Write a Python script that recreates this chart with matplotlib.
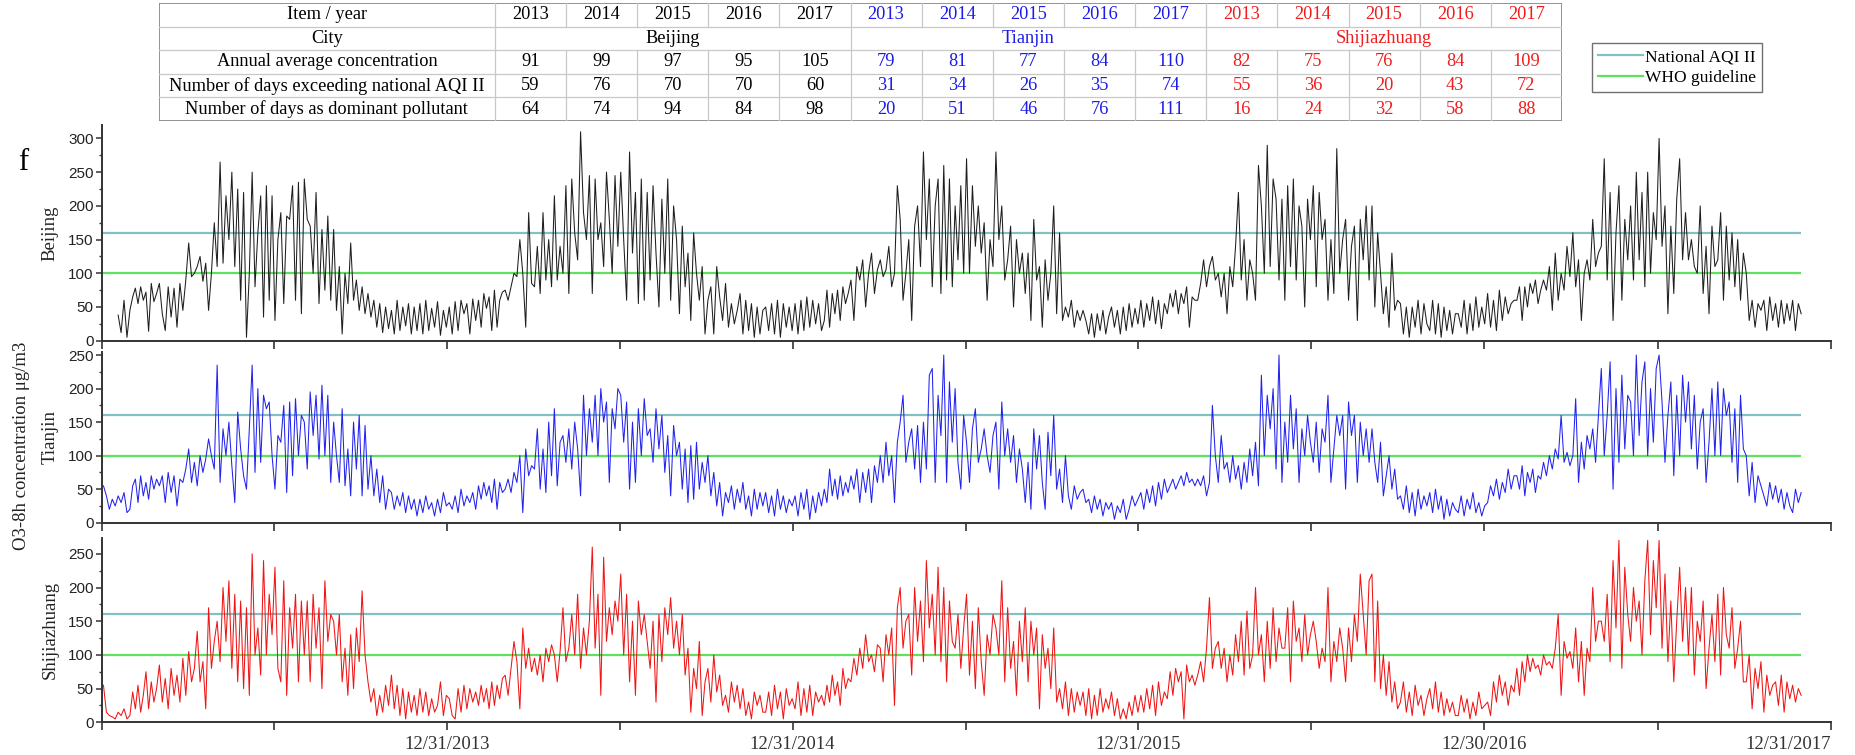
import numpy as np
import pandas as pd
import matplotlib
matplotlib.use('Agg')
import matplotlib.pyplot as plt
import matplotlib.dates as mdates
from matplotlib.patches import Rectangle
from matplotlib.transforms import ScaledTranslation

# ---- table data ----
table_years = [2013, 2014, 2015, 2016, 2017]
table_cities = ['Beijing', 'Tianjin', 'Shijiazhuang']
table_rows = ['Annual average concentration',
              'Number of days exceeding national AQI II',
              'Number of days as dominant pollutant']
bj_table = [[91, 99, 97, 95, 105], [59, 76, 70, 70, 60], [64, 74, 94, 84, 98]]
tj_table = [[79, 81, 77, 84, 110], [31, 34, 26, 35, 74], [20, 51, 46, 76, 111]]
sjz_table = [[82, 75, 76, 84, 109], [55, 36, 20, 43, 72], [16, 24, 32, 58, 88]]

aqi_ii = 160
who_guideline = 100

# ---- O3-8h series, 10 readings per month, Jan 2013 .. Nov 2017 ----
first_month = '2013-01'
last_month = '2017-11'
per_month = 10

beijing = [
    # 2013
    None, None, None, None, None, 38, 12, 60, 5, 45,
    65, 78, 55, 80, 60, 72, 14, 85, 58, 70,
    85, 40, 15, 80, 35, 78, 20, 85, 45, 90,
    145, 95, 100, 110, 125, 88, 115, 45, 100, 175,
    110, 265, 115, 215, 150, 250, 110, 225, 60, 220,
    5, 100, 250, 80, 160, 215, 35, 230, 60, 215,
    30, 150, 190, 55, 185, 180, 230, 60, 235, 40,
    240, 180, 170, 100, 220, 55, 165, 75, 185, 60,
    165, 45, 110, 10, 100, 55, 145, 60, 90, 45,
    80, 40, 70, 35, 60, 20, 55, 12, 50, 18,
    45, 10, 60, 15, 50, 22, 55, 10, 50, 15,
    55, 10, 60, 15, 48, 20, 58, 8, 45, 20,
    # 2014
    50, 10, 58, 15, 60, 40, 55, 10, 62, 30,
    60, 20, 70, 48, 65, 15, 75, 20, 60, 72,
    75, 60, 80, 100, 95, 150, 100, 20, 190, 85,
    80, 140, 70, 190, 90, 150, 80, 215, 90, 140,
    100, 230, 70, 240, 160, 120, 310, 190, 150, 245,
    70, 240, 150, 175, 110, 250, 180, 100, 245, 140,
    250, 150, 60, 280, 130, 220, 55, 240, 60, 220,
    90, 230, 130, 50, 210, 100, 240, 60, 200, 150,
    40, 170, 80, 130, 30, 160, 100, 60, 110, 10,
    60, 80, 10, 110, 65, 30, 85, 20, 55, 25,
    45, 70, 10, 60, 15, 55, 5, 50, 10, 45,
    50, 15, 55, 10, 60, 5, 55, 20, 50, 15,
    # 2015
    55, 10, 60, 15, 65, 20, 60, 25, 55, 15,
    30, 75, 20, 70, 40, 75, 30, 80, 55, 70,
    90, 30, 110, 90, 120, 50, 100, 130, 70, 105,
    120, 95, 105, 140, 80, 100, 230, 180, 60, 100,
    150, 30, 170, 200, 110, 280, 150, 240, 80, 200,
    240, 70, 260, 90, 240, 80, 200, 120, 230, 100,
    270, 100, 230, 140, 200, 130, 175, 60, 150, 110,
    280, 150, 200, 90, 120, 170, 50, 150, 100, 130,
    70, 130, 30, 180, 90, 110, 20, 120, 60, 100,
    200, 40, 160, 30, 50, 35, 60, 20, 45, 30,
    45, 30, 10, 40, 5, 40, 15, 45, 10, 35,
    50, 20, 45, 10, 50, 15, 55, 20, 48, 25,
    # 2016
    60, 20, 55, 30, 65, 25, 60, 18, 55, 40,
    70, 50, 75, 40, 70, 55, 80, 20, 65, 60,
    60, 85, 120, 80, 110, 125, 90, 100, 65, 100,
    40, 110, 80, 140, 220, 90, 150, 60, 120, 100,
    60, 260, 200, 100, 290, 110, 240, 210, 90, 210,
    60, 230, 110, 240, 90, 200, 170, 50, 210, 150,
    230, 80, 220, 150, 180, 60, 150, 70, 285, 100,
    150, 180, 60, 140, 170, 30, 180, 120, 200, 90,
    200, 50, 160, 100, 40, 80, 20, 130, 45, 60,
    55, 10, 50, 5, 50, 20, 60, 10, 55, 25,
    15, 60, 10, 55, 5, 50, 15, 45, 10, 40,
    40, 20, 60, 10, 55, 15, 65, 20, 50, 25,
    # 2017
    70, 20, 60, 15, 75, 30, 65, 40, 55, 60,
    60, 80, 30, 80, 50, 85, 70, 90, 55, 75,
    90, 75, 110, 45, 130, 60, 100, 75, 140, 95,
    160, 80, 120, 30, 100, 120, 90, 180, 110, 130,
    140, 270, 90, 220, 30, 160, 230, 60, 180, 120,
    200, 90, 250, 120, 220, 80, 250, 100, 190, 150,
    300, 140, 200, 40, 170, 70, 210, 270, 120, 190,
    120, 150, 110, 100, 200, 70, 140, 40, 170, 110,
    120, 190, 60, 170, 90, 160, 80, 150, 60, 130,
    100, 30, 60, 20, 55, 45, 60, 15, 65, 30,
    55, 20, 60, 25, 55, 30, 60, 15, 55, 40,
]

tianjin = [
    # 2013
    55, 40, 20, 35, 25, 40, 30, 45, 15, 20,
    55, 65, 30, 70, 40, 60, 35, 70, 50, 65,
    55, 70, 30, 75, 45, 70, 25, 65, 60, 80,
    110, 60, 90, 55, 100, 75, 95, 125, 100, 80,
    235, 60, 140, 100, 150, 85, 30, 165, 110, 70,
    50, 140, 235, 75, 200, 90, 190, 170, 180, 100,
    50, 130, 120, 175, 45, 180, 70, 185, 100, 160,
    150, 80, 195, 130, 190, 95, 205, 100, 190, 60,
    150, 100, 60, 170, 55, 110, 40, 150, 80, 160,
    40, 145, 50, 100, 40, 80, 30, 70, 20, 50,
    45, 20, 40, 25, 45, 15, 40, 20, 35, 10,
    35, 15, 40, 20, 30, 10, 35, 15, 45, 25,
    # 2014
    30, 20, 40, 15, 50, 25, 40, 30, 45, 20,
    55, 35, 60, 40, 55, 30, 65, 20, 60, 45,
    50, 65, 45, 75, 60, 100, 15, 110, 70, 85,
    80, 140, 50, 110, 45, 150, 70, 170, 55, 120,
    130, 90, 140, 80, 150, 110, 40, 190, 100, 170,
    120, 190, 100, 200, 150, 180, 60, 170, 140, 200,
    190, 120, 180, 50, 150, 60, 170, 100, 185, 130,
    140, 90, 170, 110, 160, 75, 130, 40, 145, 100,
    120, 50, 110, 30, 115, 35, 120, 50, 90, 60,
    100, 40, 75, 25, 60, 10, 45, 30, 55, 20,
    50, 30, 60, 20, 40, 10, 50, 20, 45, 25,
    45, 15, 40, 10, 50, 20, 40, 15, 35, 25,
    # 2015
    40, 10, 45, 20, 50, 5, 40, 15, 45, 25,
    50, 30, 80, 40, 65, 35, 70, 40, 60, 45,
    70, 50, 80, 30, 75, 45, 80, 30, 85, 60,
    100, 60, 120, 70, 100, 30, 120, 150, 190, 90,
    120, 140, 80, 145, 60, 150, 80, 220, 230, 60,
    190, 130, 250, 60, 210, 120, 200, 90, 50, 160,
    120, 60, 140, 170, 90, 110, 140, 100, 75, 130,
    150, 50, 180, 100, 140, 90, 130, 60, 110, 80,
    30, 90, 20, 140, 80, 130, 60, 20, 135, 70,
    160, 50, 80, 30, 100, 40, 20, 55, 35, 45,
    50, 30, 35, 15, 40, 20, 35, 10, 30, 20,
    30, 5, 25, 15, 35, 5, 20, 40, 25, 35,
    # 2016
    45, 20, 50, 30, 55, 25, 60, 35, 65, 45,
    55, 65, 50, 60, 70, 55, 75, 60, 65, 55,
    65, 55, 70, 40, 60, 175, 100, 60, 130, 80,
    90, 60, 100, 65, 85, 50, 90, 60, 110, 70,
    120, 55, 220, 100, 190, 140, 200, 80, 250, 60,
    150, 90, 190, 110, 170, 60, 140, 100, 160, 120,
    90, 150, 75, 140, 120, 190, 60, 110, 160, 130,
    160, 50, 180, 130, 160, 60, 150, 100, 140, 90,
    140, 90, 60, 120, 40, 70, 100, 50, 80, 35,
    40, 20, 55, 15, 45, 10, 50, 20, 40, 25,
    45, 15, 50, 20, 40, 5, 35, 10, 30, 20,
    15, 40, 10, 35, 20, 45, 15, 30, 10, 25,
    # 2017
    30, 55, 40, 65, 35, 60, 45, 80, 50, 70,
    70, 50, 85, 40, 75, 60, 80, 45, 70, 65,
    90, 70, 100, 80, 110, 95, 160, 90, 105, 85,
    100, 185, 60, 120, 80, 130, 110, 140, 90, 160,
    230, 100, 160, 240, 50, 200, 90, 220, 110, 190,
    180, 100, 250, 130, 210, 240, 100, 200, 120, 230,
    250, 180, 90, 160, 210, 70, 190, 100, 220, 150,
    210, 110, 190, 80, 150, 170, 60, 120, 200, 100,
    210, 100, 200, 160, 180, 90, 170, 60, 190, 110,
    100, 40, 90, 30, 70, 55, 40, 25, 60, 35,
    55, 30, 50, 20, 45, 25, 15, 50, 30, 45,
]

shijiazhuang = [
    # 2013
    55, 15, 10, 8, 5, 15, 10, 20, 5, 10,
    45, 20, 55, 15, 40, 75, 20, 60, 30, 50,
    85, 30, 65, 20, 80, 40, 70, 30, 95, 40,
    105, 60, 80, 135, 60, 90, 20, 170, 80, 120,
    150, 90, 200, 120, 210, 80, 190, 60, 180, 50,
    170, 40, 250, 100, 140, 70, 240, 100, 190, 130,
    230, 80, 60, 210, 40, 170, 110, 190, 60, 180,
    100, 180, 60, 190, 110, 170, 50, 210, 120, 160,
    150, 100, 160, 60, 110, 40, 130, 50, 140, 90,
    195, 100, 60, 30, 50, 10, 40, 15, 55, 25,
    70, 20, 55, 10, 50, 5, 45, 15, 40, 10,
    50, 15, 45, 10, 35, 15, 25, 60, 10, 40,
    # 2014
    35, 10, 5, 50, 15, 55, 20, 50, 30, 45,
    25, 55, 30, 50, 20, 60, 25, 55, 35, 65,
    70, 40, 80, 120, 90, 20, 140, 80, 110, 75,
    95, 70, 100, 60, 110, 90, 115, 100, 60, 105,
    170, 90, 110, 160, 100, 190, 80, 140, 100, 150,
    260, 110, 190, 40, 245, 120, 170, 130, 180, 150,
    220, 100, 190, 60, 150, 40, 180, 130, 160, 120,
    80, 150, 30, 160, 90, 170, 130, 185, 110, 150,
    100, 160, 70, 110, 15, 80, 50, 120, 10, 60,
    80, 30, 100, 45, 70, 25, 40, 15, 60, 30,
    55, 20, 50, 10, 30, 5, 45, 25, 40, 15,
    15, 45, 10, 55, 20, 45, 5, 50, 25, 35,
    # 2015
    20, 60, 10, 50, 15, 55, 10, 45, 30, 40,
    25, 55, 30, 70, 40, 60, 25, 80, 50, 65,
    60, 95, 70, 110, 80, 130, 90, 100, 75, 115,
    110, 60, 130, 100, 140, 25, 170, 200, 110, 150,
    160, 70, 200, 120, 180, 90, 240, 140, 190, 100,
    230, 90, 200, 60, 180, 120, 110, 160, 80, 140,
    190, 70, 150, 50, 170, 90, 40, 130, 100, 160,
    140, 100, 210, 60, 170, 80, 120, 40, 150, 90,
    170, 60, 150, 100, 140, 20, 130, 80, 110, 50,
    140, 30, 50, 20, 60, 10, 50, 15, 45, 25,
    45, 10, 50, 5, 40, 10, 50, 15, 35, 20,
    45, 10, 35, 5, 20, 5, 30, 10, 40, 15,
    # 2016
    40, 15, 50, 20, 55, 10, 60, 25, 45, 35,
    75, 40, 80, 60, 75, 5, 85, 60, 70, 55,
    70, 90, 60, 110, 185, 80, 110, 120, 80, 110,
    60, 100, 70, 130, 90, 150, 70, 165, 80, 100,
    200, 100, 130, 60, 150, 80, 170, 90, 140, 110,
    110, 170, 60, 180, 120, 140, 90, 160, 100, 130,
    150, 120, 80, 110, 90, 200, 60, 120, 90, 140,
    110, 60, 140, 90, 160, 120, 220, 160, 100, 210,
    220, 60, 180, 50, 100, 40, 90, 30, 60, 20,
    30, 60, 15, 45, 10, 55, 25, 40, 10, 35,
    50, 20, 60, 15, 45, 10, 35, 15, 30, 10,
    10, 40, 15, 35, 5, 30, 10, 45, 20, 25,
    # 2017
    30, 10, 60, 30, 70, 40, 60, 25, 55, 45,
    80, 40, 90, 60, 100, 75, 95, 80, 85, 70,
    100, 85, 90, 80, 110, 160, 40, 120, 95, 105,
    80, 140, 60, 120, 40, 110, 90, 200, 120, 150,
    150, 120, 190, 90, 240, 140, 270, 80, 230, 160,
    120, 200, 150, 180, 100, 210, 270, 130, 240, 170,
    270, 110, 220, 90, 180, 60, 150, 230, 120, 200,
    100, 200, 70, 150, 120, 180, 50, 110, 160, 90,
    190, 70, 200, 130, 110, 170, 80, 110, 150, 60,
    60, 100, 20, 80, 50, 90, 15, 70, 40, 55,
    60, 25, 70, 15, 60, 35, 55, 30, 50, 40,
]

tick_labels = ['12/31/2013', '12/31/2014', '12/31/2015', '12/30/2016', '12/31/2017']
axis_start = '2013-01-01'

# ---- dates for the readings ----
dates = []
for m in pd.period_range(first_month, last_month, freq='M'):
    n = m.days_in_month
    for k in range(per_month):
        dates.append(m.start_time + pd.Timedelta(days=(k + 0.5) * n / per_month))
dates = mdates.date2num(dates)

serif = 'Liberation Serif'
sans = 'Liberation Sans'

fig = plt.figure(figsize=(18.56, 7.55), dpi=100)

# ---- table ----
tab = fig.add_axes([159 / 1856, 1 - 121 / 755, (1562 - 159) / 1856, 118 / 755])
w0 = 4.72
ncol = len(table_years) * len(table_cities)
tab.set_xlim(0, w0 + ncol)
tab.set_ylim(5, 0)
tab.axis('off')
city_colors = ['black', '#1c1ce6', '#f01c1c']
city_tables = [bj_table, tj_table, sjz_table]
grid_c = '#c8c8c8'
for r in range(1, 5):
    tab.plot([0, w0 + ncol], [r, r], color=grid_c, lw=0.9)
for j in range(ncol):
    x = w0 + j
    if j % 5 == 0:
        tab.plot([x, x], [0, 5], color=grid_c, lw=0.9)
    else:
        tab.plot([x, x], [0, 1], color=grid_c, lw=0.9)
        tab.plot([x, x], [2, 5], color=grid_c, lw=0.9)
tab.add_patch(Rectangle((0, 0), w0 + ncol, 5, fill=False, ec='#8a8a8a', lw=1.3))
fs_tab = 13.2
tab.text(w0 / 2, 0.5, 'Item / year', ha='center', va='center', family=serif, fontsize=fs_tab)
tab.text(w0 / 2, 1.5, 'City', ha='center', va='center', family=serif, fontsize=fs_tab)
for i, lab in enumerate(table_rows):
    tab.text(w0 / 2, 2.5 + i, lab, ha='center', va='center', family=serif, fontsize=fs_tab)
for c, city in enumerate(table_cities):
    col = city_colors[c]
    tab.text(w0 + 5 * c + 2.5, 1.5, city, ha='center', va='center', family=serif,
             fontsize=fs_tab, color=col)
    for j, yr in enumerate(table_years):
        x = w0 + 5 * c + j + 0.5
        tab.text(x, 0.5, str(yr), ha='center', va='center', family=serif, fontsize=fs_tab, color=col)
        for i in range(3):
            tab.text(x, 2.5 + i, str(city_tables[c][i][j]), ha='center', va='center',
                     family=serif, fontsize=fs_tab, color=col)

# ---- time series panels ----
x0 = mdates.date2num(pd.Timestamp(axis_start))
label_pos = [mdates.date2num(pd.to_datetime(s, format='%m/%d/%Y')) for s in tick_labels]
ticks = [x0]
prev = x0
for p in label_pos:
    ticks += [(prev + p) / 2, p]
    prev = p

left = 102 / 1856
width = (1831 - 102) / 1856
boxes = [(125, 340.7), (351.7, 522.7), (538.3, 722.3)]
ytops = [320, 255, 273]
series = [beijing, tianjin, shijiazhuang]
colors = ['#1e1e1e', '#2222ee', '#f01414']

for i, (name, vals) in enumerate(zip(table_cities, series)):
    top, bot = boxes[i]
    ax = fig.add_axes([left, 1 - bot / 755, width, (bot - top) / 755])
    vals = np.array(vals, dtype=float)
    assert len(vals) == len(dates), (name, len(vals), len(dates))
    ax.hlines(aqi_ii, dates[0], dates[-1], color='#82c0c6', lw=1.6, zorder=1)
    ax.hlines(who_guideline, dates[0], dates[-1], color='#5fe05f', lw=1.6, zorder=1)
    ax.plot(dates, vals, color=colors[i], lw=0.75, zorder=2)
    ax.set_xlim(x0, label_pos[-1])
    ax.set_ylim(0, ytops[i])
    ax.set_yticks(np.arange(0, ytops[i] + 1, 50))
    ax.set_yticks(np.arange(25, ytops[i] + 1, 50), minor=True)
    ax.set_xticks(ticks)
    if i == 2:
        ax.set_xticklabels(['' if t not in label_pos else tick_labels[label_pos.index(t)]
                            for t in ticks], family=serif, fontsize=13.5, color='#333333')
        last = ax.get_xticklabels()[-1]
        last.set_horizontalalignment('right')
        last.set_transform(last.get_transform() + ScaledTranslation(0.23, 0, fig.dpi_scale_trans))
    else:
        ax.set_xticklabels([])
    for lab in ax.get_yticklabels():
        lab.set_family(sans)
        lab.set_fontsize(11)
        lab.set_color('#222222')
    for s in ['top', 'right']:
        ax.spines[s].set_visible(False)
    for s in ['left', 'bottom']:
        ax.spines[s].set_color('#333333')
        ax.spines[s].set_linewidth(1.4)
    ax.tick_params(axis='y', which='major', direction='out', length=4, width=1.1, color='#333333', pad=2)
    ax.tick_params(axis='y', which='minor', direction='out', length=2.5, width=1.0, color='#333333')
    ax.tick_params(axis='x', which='major', direction='out', length=6, width=1.2, color='#333333', pad=4)
    fig.text(50 / 1856, 1 - (top + bot) / 2 / 755, name, rotation=90, ha='center', va='center',
             family=serif, fontsize=13.5, color='#222222')

fig.text(22 / 1856, 0.41, 'O3-8h concentration \u03bcg/m3', rotation=90, ha='center', va='center',
         family=serif, fontsize=13.5, color='#222222')
fig.text(0.010, 1 - 163 / 755, 'f', ha='left', va='center', family=serif, fontsize=22)

leg_aqi = plt.Line2D([], [], color='#82c0c6', lw=1.6)
leg_who = plt.Line2D([], [], color='#5fe05f', lw=1.6)
fig.legend([leg_aqi, leg_who], ['National AQI II', 'WHO guideline'], loc='upper left',
           bbox_to_anchor=(1592 / 1856, 1 - 43 / 755), frameon=True, fancybox=False,
           edgecolor='#707070', framealpha=1, handlelength=2.6, handletextpad=0.1,
           borderpad=0.35, labelspacing=0.25, borderaxespad=0,
           prop={'family': serif, 'size': 12.5})

fig.savefig('out.png', dpi=100)
